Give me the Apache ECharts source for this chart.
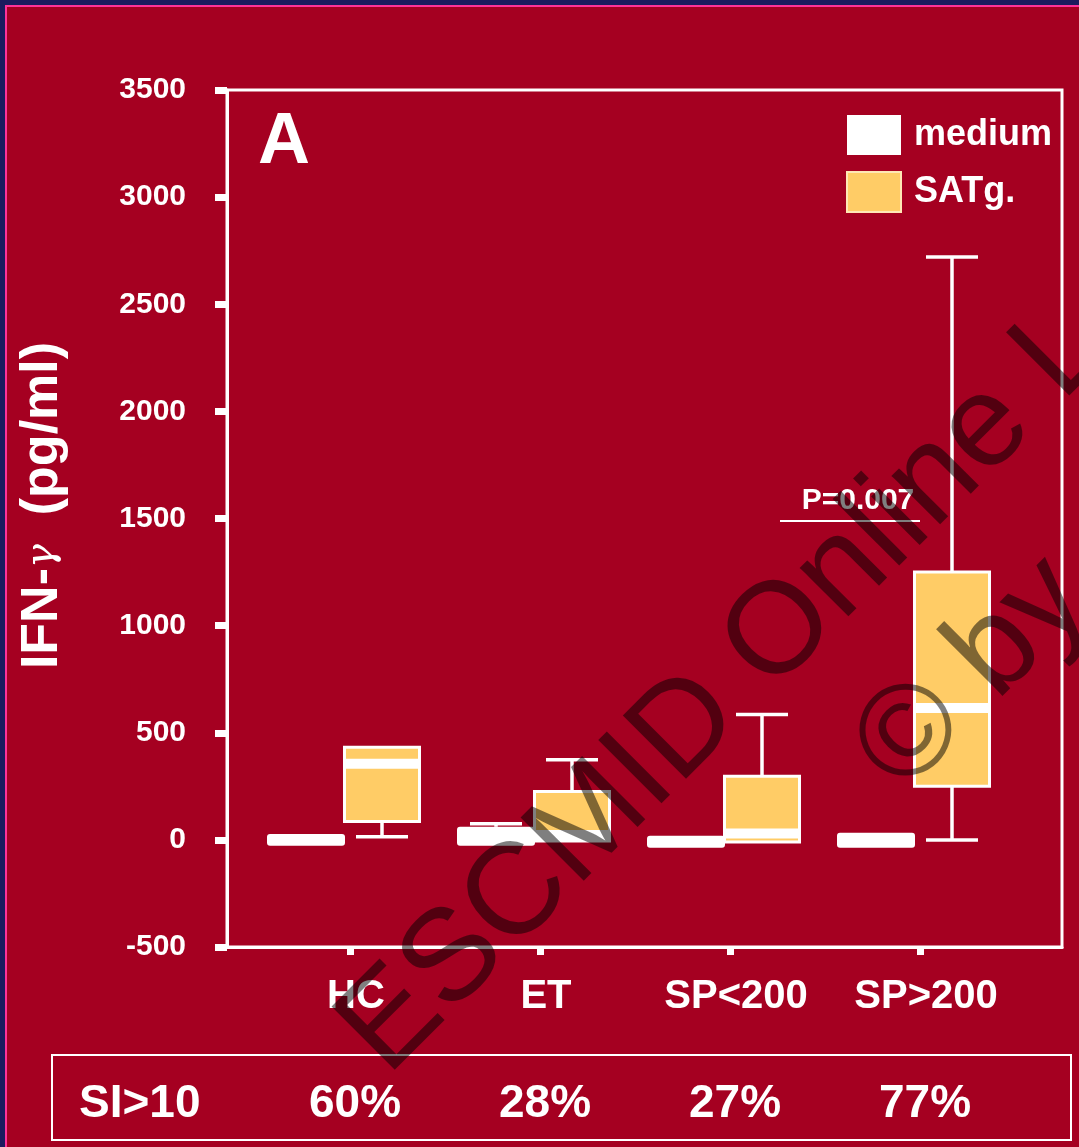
<!DOCTYPE html>
<html><head><meta charset="utf-8">
<script src="https://cdn.jsdelivr.net/npm/echarts@6/dist/echarts.min.js"></script>
<style>
html,body{margin:0;padding:0;background:#1c1b5e;overflow:hidden;}
#bg{position:absolute;left:5px;top:5px;right:0;bottom:0;background:#A50021;border-left:2px solid #FF3399;border-top:2px solid #FF3399;}
#c{position:absolute;left:0;top:0;width:1079px;height:1147px;}
</style>
</head><body><div id="bg"></div><div id="c"></div>
<script>
// ---- data ----
const categories = ['HC', 'ET', 'SP<200', 'SP>200'];
const siLabel = 'SI>10';
const siValues = ['60%', '28%', '27%', '77%'];
// [min, Q1, median, Q3, max]
const mediumValues = [
  [-28, -28, 0, 28, 28],
  [-28, -28, 0, 61, 75],
  [-37, -37, -10, 19, 19],
  [-37, -37, -5, 33, 33]
];
const satgValues = [
  [15, 86, 355, 432, 432],
  [-5, -5, 23, 226, 374],
  [-10, -10, 30, 297, 585],
  [0, 250, 615, 1250, 2720]
];
const yMin = -500, yMax = 3500, yInterval = 500;
const pText = 'P=0.007';
const pValueY = 1490;

// ---- layout constants ----
const FONT = '"Liberation Sans", Arial, sans-serif';
const X_MIN = 1 - 123 / 190, X_MAX = 4 + 142 / 190;
const P_X1 = 1 + 430 / 190, P_X2 = 1 + 570 / 190;

function makeRender(kind) {
  return function (params, api) {
    const xv = api.value(0);
    const off = kind === 'medium' ? -44 : 32;
    const cx = api.coord([xv, 0])[0] + off;
    const y = k => api.coord([xv, api.value(k)])[1];
    const yMn = y(1), yQ1 = y(2), yMd = y(3), yQ3 = y(4), yMx = y(5);
    const bw = 78, cw = 52, lw = 3.5;
    const children = [];
    const line = (x1, y1, x2, y2) => ({ type: 'line', shape: { x1, y1, x2, y2 }, style: { stroke: '#fff', lineWidth: lw } });
    if (yMx < yQ3 - 0.5) {
      children.push(line(cx, yMx, cx, yQ3));
      children.push(line(cx - cw / 2, yMx, cx + cw / 2, yMx));
    }
    if (yMn > yQ1 + 0.5) {
      children.push(line(cx, yQ1, cx, yMn));
      children.push(line(cx - cw / 2, yMn, cx + cw / 2, yMn));
    }
    if (kind === 'medium') {
      children.push({ type: 'rect', shape: { x: cx - bw / 2, y: yQ3, width: bw, height: yQ1 - yQ3, r: 3 }, style: { fill: '#fff' } });
    } else {
      children.push({ type: 'rect', shape: { x: cx - bw / 2 + 1.5, y: yQ3, width: bw - 3, height: yQ1 - yQ3 }, style: { fill: '#FFCC66', stroke: '#fff', lineWidth: 3 } });
      children.push({ type: 'rect', shape: { x: cx - bw / 2, y: yMd - 5, width: bw, height: 10 }, style: { fill: '#fff' } });
    }
    return { type: 'group', children };
  };
}

const chart = echarts.init(document.getElementById('c'), null, { renderer: 'canvas' });
const option = {
  backgroundColor: 'transparent',
  animation: false,
  textStyle: { fontFamily: FONT },
  grid: { left: 227, top: 90, width: 835, height: 857, show: true, borderColor: '#fff', borderWidth: 3, backgroundColor: 'transparent' },
  legend: {
    orient: 'vertical', left: 841, top: 110, itemWidth: 54, itemHeight: 40, itemGap: 16, selectedMode: false,
    textStyle: { color: '#fff', fontSize: 36, fontWeight: 'bold', fontFamily: FONT, padding: [0, 0, 0, 8] },
    data: [
      { name: 'medium', icon: 'rect', itemStyle: { color: '#fff' } },
      { name: 'SATg.', icon: 'rect', itemStyle: { color: '#FFCC66', borderColor: '#FFE7B5', borderWidth: 2 } }
    ]
  },
  xAxis: [
    {
      type: 'value', min: X_MIN, max: X_MAX, position: 'bottom', offset: 0,
      splitLine: { show: false },
      axisLine: { show: true, onZero: false, lineStyle: { color: '#fff', width: 3 } },
      axisTick: { show: true, customValues: [1, 2, 3, 4], length: 8, lineStyle: { color: '#fff', width: 7 } },
      axisLabel: { customValues: [1, 2, 3, 4], formatter: v => categories[Math.round(v) - 1], color: '#fff', fontSize: 40, fontWeight: 'bold', fontFamily: FONT, margin: 30, padding: [0, 0, 0, 12] }
    },
    {
      type: 'value', min: X_MIN, max: X_MAX, position: 'bottom', offset: 0,
      splitLine: { show: false }, axisLine: { show: false }, axisTick: { show: false },
      axisLabel: { customValues: [1, 2, 3, 4], formatter: v => siValues[Math.round(v) - 1], color: '#fff', fontSize: 46, fontWeight: 'bold', fontFamily: FONT, margin: 134, padding: [0, 0, 0, 10] }
    }
  ],
  yAxis: {
    type: 'value', min: yMin, max: yMax, interval: yInterval,
    splitLine: { show: false },
    axisLine: { show: true, lineStyle: { color: '#fff', width: 3 } },
    axisTick: { show: true, length: 12, lineStyle: { color: '#fff', width: 7 } },
    axisLabel: { color: '#fff', fontSize: 30, fontWeight: 'bold', fontFamily: FONT, margin: 41, formatter: v => String(v) },
    name: '{a|IFN-}{g|γ}{a|  (pg/ml)}', nameLocation: 'middle', nameGap: 158, nameRotate: 90,
    nameTextStyle: {
      padding: [0, 0, 0, 26],
      rich: {
        a: { color: '#fff', fontSize: 52, fontWeight: 'bold', fontFamily: FONT },
        g: { color: '#fff', fontSize: 40, fontFamily: '"DejaVu Serif", serif', fontStyle: 'italic' }
      }
    }
  },
  series: [
    {
      type: 'custom', name: 'medium', xAxisIndex: 0, yAxisIndex: 0, z: 3,
      itemStyle: { color: '#fff' },
      encode: { x: 0, y: [1, 2, 3, 4, 5] },
      renderItem: makeRender('medium'),
      data: mediumValues.map((v, i) => [i + 1].concat(v))
    },
    {
      type: 'custom', name: 'SATg.', xAxisIndex: 0, yAxisIndex: 0, z: 3,
      itemStyle: { color: '#FFCC66' },
      encode: { x: 0, y: [1, 2, 3, 4, 5] },
      renderItem: makeRender('satg'),
      data: satgValues.map((v, i) => [i + 1].concat(v)),
      markLine: {
        silent: true, symbol: 'none', animation: false,
        lineStyle: { color: '#fff', width: 2, type: 'solid' },
        label: { show: true, position: 'insideMiddleTop', formatter: pText, color: '#fff', fontSize: 30, fontWeight: 'bold', fontFamily: FONT, distance: 5, padding: [0, 0, 0, 16] },
        data: [[{ coord: [P_X1, pValueY] }, { coord: [P_X2, pValueY] }]]
      }
    }
  ],
  graphic: {
    elements: [
      { type: 'text', x: 258, y: 143, z: 10, style: { text: 'A', fill: '#fff', fontSize: 72, fontWeight: 'bold', fontFamily: FONT, align: 'left', verticalAlign: 'middle' } },
      { type: 'rect', z: 10, shape: { x: 52, y: 1055, width: 1019, height: 85 }, style: { fill: 'none', stroke: '#fff', lineWidth: 2 } },
      { type: 'text', x: 79, y: 1104, z: 10, style: { text: siLabel, fill: '#fff', fontSize: 46, fontWeight: 'bold', fontFamily: FONT, align: 'left', verticalAlign: 'middle' } },
      { type: 'text', x: 362, y: 1052, z: 100, rotation: Math.PI / 4, silent: true, style: { text: 'ESCMID Online Lecture Library', fill: 'rgba(0,0,0,0.5)', fontSize: 130, fontFamily: FONT, align: 'left', verticalAlign: 'middle' } },
      { type: 'text', x: 878, y: 770, z: 100, rotation: Math.PI / 4, silent: true, style: { text: '© by author', fill: 'rgba(0,0,0,0.5)', fontSize: 130, fontFamily: FONT, align: 'left', verticalAlign: 'middle' } }
    ]
  }
};
chart.setOption(option);
</script>
</body></html>
